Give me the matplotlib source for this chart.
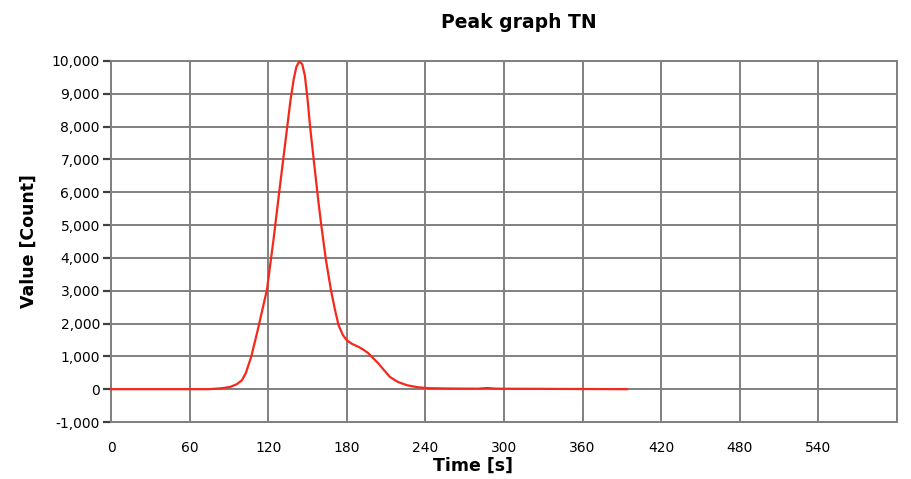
import matplotlib
matplotlib.use('Agg')
import matplotlib.pyplot as plt
from matplotlib.ticker import FuncFormatter

# ── data ──
time_s = [0, 60, 75, 85, 91, 96, 100, 103, 107, 112,
          116, 119, 124, 129, 134.5, 137, 139.5, 141.5, 143.7, 146,
          148, 150, 152, 155, 158.2, 160.5, 164.1, 167.9, 170.8, 173.7,
          177, 180, 184, 188.9, 192, 196, 200, 204, 208, 213,
          219, 226, 234, 242, 260, 280, 287, 295, 330, 360, 394]
counts = [0, 0, 0, 30, 70, 150, 274, 500, 985, 1800,
          2500, 3020, 4540, 6200, 7990, 8800, 9450, 9820, 9990, 9900,
          9550, 8850, 7990, 6900, 5760, 5000, 3930, 3020, 2450, 1950,
          1650, 1490, 1380, 1290, 1220, 1110, 950, 790, 600, 370,
          220, 120, 60, 30, 20, 15, 35, 15, 10, 5, 0]
x_ticks = list(range(0, 600, 60))
y_ticks = list(range(-1000, 10001, 1000))

GRID = '#808080'

fig = plt.figure(figsize=(9.11, 4.79), dpi=100)
ax = fig.add_axes([111/911, 1-422/479, 786/911, 361/479])

ax.plot(time_s, counts, color='#f5281c', linewidth=1.6, zorder=3, clip_on=False)

ax.set_xlim(0, 600)
ax.set_ylim(-1000, 10000)
ax.set_xticks(x_ticks + [600])
ax.set_xticklabels([str(t) for t in x_ticks] + [''])
ax.set_yticks(y_ticks)
ax.yaxis.set_major_formatter(FuncFormatter(lambda v, p: f'{int(v):,}'))

ax.grid(True, color=GRID, linewidth=1.4)
for s in ax.spines.values():
    s.set_color(GRID)
    s.set_linewidth(1.4)
ax.tick_params(axis='y', length=6, width=1.6, color='#404040', pad=2, labelsize=10)
ax.tick_params(axis='x', length=0, pad=14, labelsize=10)

ax.set_xlabel('Time [s]', fontsize=12.5, fontweight='bold')
ax.xaxis.set_label_coords((473-111)/786, -0.095)
ax.set_ylabel('Value [Count]', fontsize=12.5, fontweight='bold')
ax.yaxis.set_label_coords(-0.093, 0.5)
fig.text(519/911, 1-22/479, 'Peak graph TN', ha='center', va='center',
         fontsize=13.5, fontweight='bold')

plt.savefig('out.png', dpi=100)
